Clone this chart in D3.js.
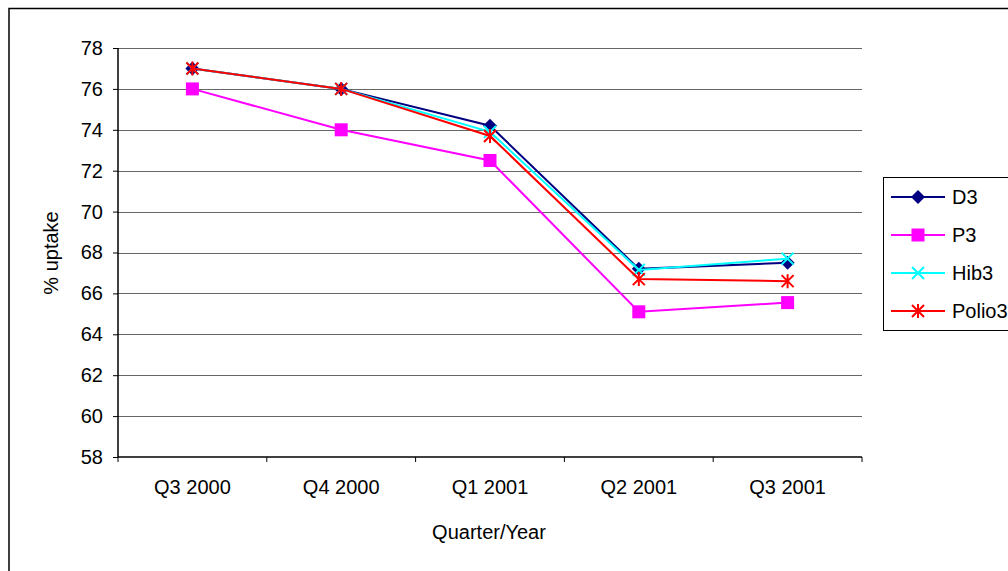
<!DOCTYPE html>
<html>
<head>
<meta charset="utf-8">
<script src="https://cdn.jsdelivr.net/npm/d3@7"></script>
<style>
  body { margin: 0; background: #fff; }
  text { font-family: "Liberation Sans", Arial, sans-serif; fill: #000; }
</style>
</head>
<body>
<script>
// DATA
const quarters = ["Q3 2000", "Q4 2000", "Q1 2001", "Q2 2001", "Q3 2001"];
const d3Values = [77, 76, 74.2, 67.2, 67.5];
const p3Values = [76, 74, 72.5, 65.1, 65.55];
const hib3Values = [77, 76, 73.9, 67.15, 67.7];
const polio3Values = [77, 76, 73.7, 66.7, 66.6];
const yTicks = [58, 60, 62, 64, 66, 68, 70, 72, 74, 76, 78];

const series = [
  {name: "D3", values: d3Values, color: "#000080", marker: "diamond"},
  {name: "P3", values: p3Values, color: "#FF00FF", marker: "square"},
  {name: "Hib3", values: hib3Values, color: "#00FFFF", marker: "x"},
  {name: "Polio3", values: polio3Values, color: "#FF0000", marker: "star"}
];

// SIZES
const W = 1008, H = 571;
const plot = {left: 118, right: 862, top: 48, bottom: 457};

var svg = d3.select("body").append("svg")
  .attr("width", W)
  .attr("height", H);

// OUTER BORDER
svg.append("rect")
  .attr("x", 9).attr("y", 8.5)
  .attr("width", W + 10).attr("height", H + 10)
  .attr("fill", "none")
  .attr("stroke", "#000")
  .attr("stroke-width", 1.5);

// SCALES
var x = d3.scaleBand()
  .domain(quarters)
  .range([plot.left, plot.right]);

var y = d3.scaleLinear()
  .domain([58, 78])
  .range([plot.bottom, plot.top]);

// GRIDLINES
svg.append("g")
  .selectAll("line")
  .data(yTicks.slice(1))
  .join("line")
  .attr("x1", plot.left).attr("x2", plot.right)
  .attr("y1", d => Math.round(y(d)) + 0.5)
  .attr("y2", d => Math.round(y(d)) + 0.5)
  .attr("stroke", "#666")
  .attr("stroke-width", 1.2);

// Y AXIS
var yAxis = svg.append("g")
  .attr("transform", `translate(${plot.left},0)`)
  .call(d3.axisLeft(y).tickValues(yTicks).tickSize(5).tickPadding(10).tickFormat(d3.format("d")));
yAxis.select(".domain").attr("stroke", "#000").attr("stroke-width", 1.5).attr("d", `M0,${plot.top}V${plot.bottom}`);
yAxis.selectAll(".tick line").attr("stroke", "#000");
yAxis.selectAll("text").style("font-size", "20px").attr("fill", "#000");

// X AXIS (ticks on band edges)
var xAxis = svg.append("g")
  .attr("transform", `translate(0,${plot.bottom})`);
xAxis.append("line")
  .attr("x1", plot.left).attr("x2", plot.right)
  .attr("y1", 0).attr("y2", 0)
  .attr("stroke", "#000").attr("stroke-width", 1.5);
xAxis.selectAll(".xtick")
  .data(quarters.concat(["end"]))
  .join("line")
  .attr("class", "xtick")
  .attr("x1", (d, i) => i < quarters.length ? x(d) : plot.right)
  .attr("x2", (d, i) => i < quarters.length ? x(d) : plot.right)
  .attr("y1", 0).attr("y2", 5)
  .attr("stroke", "#000");
xAxis.selectAll(".xlabel")
  .data(quarters)
  .join("text")
  .attr("class", "xlabel")
  .attr("x", d => x(d) + x.bandwidth() / 2)
  .attr("y", 37)
  .attr("text-anchor", "middle")
  .style("font-size", "20px")
  .text(d => d);

// AXIS TITLES
svg.append("text")
  .attr("x", 489)
  .attr("y", 539)
  .attr("text-anchor", "middle")
  .style("font-size", "20px")
  .text("Quarter/Year");

svg.append("text")
  .attr("transform", "translate(58,253) rotate(-90)")
  .attr("text-anchor", "middle")
  .style("font-size", "20px")
  .text("% uptake");

// MARKERS
function drawMarker(g, type, color, cx, cy) {
  if (type === "diamond") {
    g.append("path")
      .attr("d", `M${cx},${cy - 7}L${cx + 7},${cy}L${cx},${cy + 7}L${cx - 7},${cy}Z`)
      .attr("fill", color);
  } else if (type === "square") {
    g.append("rect")
      .attr("x", cx - 6.5).attr("y", cy - 6.5)
      .attr("width", 13).attr("height", 13)
      .attr("fill", color);
  } else if (type === "x") {
    g.append("path")
      .attr("d", `M${cx - 6},${cy - 6}L${cx + 6},${cy + 6}M${cx + 6},${cy - 6}L${cx - 6},${cy + 6}`)
      .attr("stroke", color).attr("stroke-width", 2).attr("fill", "none");
  } else {
    g.append("path")
      .attr("d", `M${cx - 6},${cy - 6}L${cx + 6},${cy + 6}M${cx + 6},${cy - 6}L${cx - 6},${cy + 6}M${cx},${cy - 7}V${cy + 7}`)
      .attr("stroke", color).attr("stroke-width", 2).attr("fill", "none");
  }
}

// LINES
var line = d3.line()
  .x((d, i) => x(quarters[i]) + x.bandwidth() / 2)
  .y(d => y(d));

series.forEach(function(s) {
  var g = svg.append("g");
  g.append("path")
    .datum(s.values)
    .attr("fill", "none")
    .attr("stroke", s.color)
    .attr("stroke-width", 2)
    .attr("d", line);
  s.values.forEach(function(v, i) {
    drawMarker(g, s.marker, s.color, x(quarters[i]) + x.bandwidth() / 2, y(v));
  });
});

// LEGEND
var legend = svg.append("g");
legend.append("rect")
  .attr("x", 883.5).attr("y", 177.5)
  .attr("width", 140).attr("height", 153)
  .attr("fill", "#fff")
  .attr("stroke", "#000")
  .attr("stroke-width", 1);

series.forEach(function(s, i) {
  var ly = 197 + i * 38;
  legend.append("line")
    .attr("x1", 891).attr("x2", 945)
    .attr("y1", ly).attr("y2", ly)
    .attr("stroke", s.color).attr("stroke-width", 2);
  drawMarker(legend, s.marker, s.color, 918, ly);
  legend.append("text")
    .attr("x", 952)
    .attr("y", ly + 7)
    .style("font-size", "20px")
    .text(s.name);
});
</script>
</body>
</html>
